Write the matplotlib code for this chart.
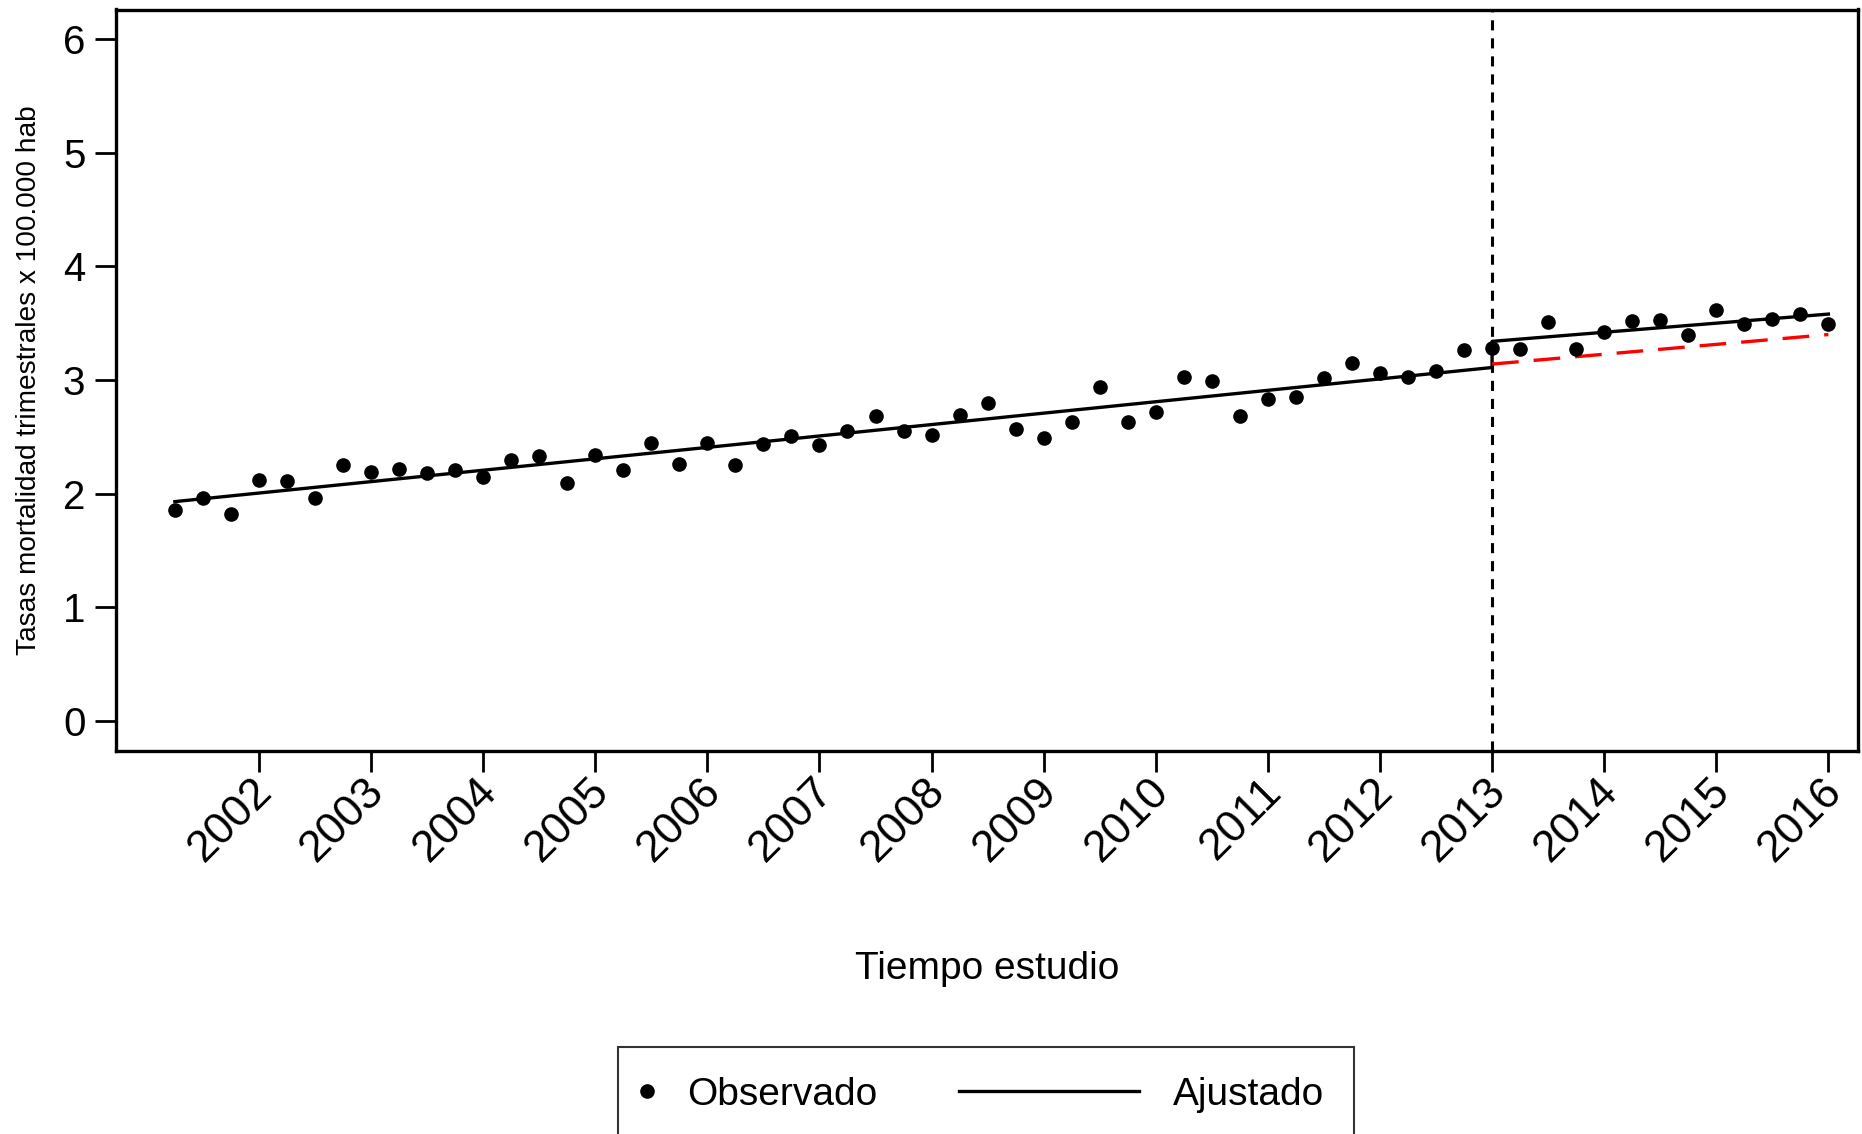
import numpy as np
import matplotlib
matplotlib.use("Agg")
import matplotlib.pyplot as plt
from matplotlib.lines import Line2D
from matplotlib.legend_handler import HandlerLine2D
from matplotlib.transforms import ScaledTranslation

plt.rcParams['font.family'] = ['Liberation Sans', 'DejaVu Sans']

# quarterly observations, 2001 Q2 .. 2016 Q1 (decimal year)
tiempo = np.arange(2001.25, 2016.01, 0.25)
observado = [1.86, 1.96, 1.82, 2.12, 2.11, 1.96, 2.25, 2.19, 2.22, 2.18,
             2.21, 2.15, 2.30, 2.33, 2.09, 2.34, 2.21, 2.45, 2.26, 2.45,
             2.25, 2.44, 2.51, 2.43, 2.55, 2.68, 2.55, 2.52, 2.69, 2.80,
             2.57, 2.49, 2.63, 2.94, 2.63, 2.72, 3.03, 2.99, 2.68, 2.83,
             2.85, 3.02, 3.15, 3.06, 3.03, 3.08, 3.26, 3.28, 3.27, 3.51,
             3.27, 3.42, 3.52, 3.53, 3.40, 3.62, 3.49, 3.54, 3.58, 3.49]

# fitted segments (interrupted time series)
fit_pre_x = [2001.25, 2013.0]
fit_pre_y = [1.93, 3.11]
fit_post_x = [2013.0, 2016.0]
fit_post_y = [3.34, 3.58]
contraf_x = [2013.0, 2016.0]
contraf_y = [3.14, 3.40]

corte = 2013
years = list(range(2002, 2017))
yticks = [0, 1, 2, 3, 4, 5, 6]


class LongLine(HandlerLine2D):
    # legend line that reaches further than the (tiny) handle box
    def __init__(self, left, right, **kw):
        super().__init__(**kw)
        self.left = left
        self.right = right

    def create_artists(self, legend, orig_handle, xdescent, ydescent,
                       width, height, fontsize, trans):
        y = (height - ydescent) / 2
        line = Line2D([-xdescent - self.left * fontsize,
                       -xdescent + width + self.right * fontsize], [y, y])
        self.update_prop(line, orig_handle, legend)
        line.set_transform(trans)
        return [line]


fig = plt.figure(figsize=(18.62, 11.34), dpi=100)
ax = fig.add_axes([116 / 1862, 1 - 750.5 / 1134, 1742 / 1862, 741 / 1134])

ax.axvline(corte, color='black', linewidth=2.2, linestyle=(0, (3.3, 2.6)), zorder=2)
ax.plot(fit_pre_x + fit_post_x, fit_pre_y + fit_post_y, color='black',
        linewidth=2.4, zorder=3, label='Ajustado')
ax.plot(contraf_x, contraf_y, color='#ff0000', linewidth=2.4,
        linestyle=(0, (8, 4.5)), zorder=3)
ax.plot(tiempo, observado, linestyle='none', marker='o', markersize=9.5,
        color='black', zorder=4, label='Observado')

ax.set_xlim(2000.725, 2016.264)
ax.set_ylim(-0.26, 6.26)
ax.set_xticks(years)
ax.set_xticklabels([str(y) for y in years], rotation=45, ha='right',
                   va='center', rotation_mode='anchor', fontsize=32)
ax.set_yticks(yticks)
ax.set_yticklabels([str(v) for v in yticks], fontsize=29)
ax.tick_params(axis='x', length=15, width=2, pad=10, direction='out')
ax.tick_params(axis='y', length=15, width=2, pad=7, direction='out')
# nudge the rotated labels a bit to the right, like the original
shift = ScaledTranslation(0.07, 0, fig.dpi_scale_trans)
for lab in ax.get_xticklabels():
    lab.set_transform(lab.get_transform() + shift)
for s in ax.spines.values():
    s.set_linewidth(2.4)

ax.set_xlabel('Tiempo estudio', fontsize=28, va='baseline')
ax.xaxis.set_label_coords(0.5, -0.309)
ax.set_ylabel('Tasas mortalidad trimestrales x 100.000 hab', fontsize=20.2)
ax.yaxis.set_label_coords(-0.0425, 0.5)

handles, labels = ax.get_legend_handles_labels()
order = [labels.index('Observado'), labels.index('Ajustado')]
leg = fig.legend([handles[i] for i in order], [labels[i] for i in order],
                 loc='upper left', bbox_to_anchor=(617.5 / 1862, 1 - 1047.4 / 1134),
                 ncol=2, fontsize=28, frameon=True, fancybox=False,
                 borderpad=0.75, handlelength=0.0, handletextpad=1.05,
                 columnspacing=6.55, borderaxespad=0,
                 handler_map={handles[order[1]]: LongLine(4.45, 0.18)})
leg.get_frame().set_edgecolor('black')
leg.get_frame().set_linewidth(1.5)

fig.savefig('out.png', dpi=100)
